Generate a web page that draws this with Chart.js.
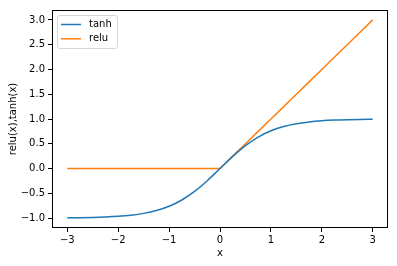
<!DOCTYPE html>
<html><head><meta charset="utf-8">
<script src="https://cdn.jsdelivr.net/npm/chart.js@4/dist/chart.umd.min.js"></script>
<style>html,body{margin:0;padding:0;background:#fff}canvas{display:block}</style>
</head><body>
<canvas id="c" width="397" height="266"></canvas>
<script>
const xValues = [-3,-2.75,-2.5,-2.25,-2,-1.75,-1.5,-1.25,-1,-0.75,-0.5,-0.25,0,0.25,0.5,0.75,1,1.25,1.5,1.75,2,2.25,2.5,2.75,3];
const tanhValues = [-0.995,-0.992,-0.987,-0.978,-0.964,-0.941,-0.905,-0.848,-0.762,-0.635,-0.462,-0.245,0,0.245,0.462,0.635,0.762,0.848,0.905,0.941,0.964,0.978,0.987,0.992,0.995];
const reluValues = [0,0,0,0,0,0,0,0,0,0,0,0,0,0.25,0.5,0.75,1,1.25,1.5,1.75,2,2.25,2.5,2.75,3];
const xTicks = [-3,-2,-1,0,1,2,3];
const yTicks = [-1.0,-0.5,0.0,0.5,1.0,1.5,2.0,2.5,3.0];
const seriesNames = ['tanh','relu'];
const colors = ['#1f77b4','#ff7f0e'];

const FONT = '"DejaVu Sans", sans-serif';
const minus = s => s.replace('-', '\u2212');

const frameAndLegend = {
  id: 'frameAndLegend',
  afterDatasetsDraw(chart) {
    const {ctx, chartArea: a} = chart;
    ctx.save();
    ctx.strokeStyle = '#000';
    ctx.lineWidth = 1;
    ctx.strokeRect(Math.round(a.left) + 0.5, Math.round(a.top) + 0.5, Math.round(a.right - a.left) - 1, Math.round(a.bottom - a.top) - 1);
    // legend
    const lx = a.left + 5, ly = a.top + 5, lw = 60, lh = 33, r = 2.5;
    ctx.beginPath();
    ctx.roundRect(lx + 0.5, ly + 0.5, lw, lh, r);
    ctx.fillStyle = 'rgba(255,255,255,0.8)';
    ctx.fill();
    ctx.strokeStyle = '#d6d6d6';
    ctx.lineWidth = 1;
    ctx.stroke();
    ctx.font = '10px ' + FONT;
    ctx.textBaseline = 'middle';
    ctx.textAlign = 'left';
    chart.data.datasets.forEach((ds, i) => {
      const y = ly + 9.5 + i * 14.3;
      ctx.beginPath();
      ctx.strokeStyle = ds.borderColor;
      ctx.lineWidth = 1.5;
      ctx.moveTo(lx + 4, y);
      ctx.lineTo(lx + 24, y);
      ctx.stroke();
      ctx.fillStyle = '#000';
      ctx.fillText(ds.label, lx + 32, y);
    });
    ctx.restore();
  }
};

new Chart(document.getElementById('c'), {
  type: 'line',
  data: {
    datasets: [
      { label: seriesNames[0], data: xValues.map((x, i) => ({x, y: tanhValues[i]})), borderColor: colors[0], backgroundColor: colors[0], borderWidth: 1.5, pointRadius: 0, cubicInterpolationMode: 'monotone', fill: false },
      { label: seriesNames[1], data: xValues.map((x, i) => ({x, y: reluValues[i]})), borderColor: colors[1], backgroundColor: colors[1], borderWidth: 1.5, pointRadius: 0, tension: 0, fill: false }
    ]
  },
  options: {
    responsive: false,
    animation: false,
    devicePixelRatio: 1,
    layout: { padding: { top: 10, right: 9, left: 0, bottom: 0 } },
    plugins: { legend: { display: false }, tooltip: { enabled: false } },
    scales: {
      x: {
        type: 'linear', min: -3.3, max: 3.3,
        afterBuildTicks: s => { s.ticks = xTicks.map(v => ({value: v})); },
        afterFit: s => { s.height = 38; },
        grid: { drawOnChartArea: false, drawTicks: true, tickLength: 4, color: '#000', tickWidth: 1 },
        border: { display: false },
        ticks: { color: '#000', font: { family: FONT, size: 10 }, padding: 2, maxRotation: 0, callback: v => minus(String(v)) },
        title: { display: true, text: 'x', color: '#000', font: { family: FONT, size: 10 }, padding: { top: 0, bottom: 7 } }
      },
      y: {
        type: 'linear', min: -1.2, max: 3.2,
        afterBuildTicks: s => { s.ticks = yTicks.map(v => ({value: v})); },
        afterFit: s => { s.width = 52; },
        grid: { drawOnChartArea: false, drawTicks: true, tickLength: 4, color: '#000', tickWidth: 1 },
        border: { display: false },
        ticks: { color: '#000', font: { family: FONT, size: 10 }, padding: 3, callback: v => minus(v.toFixed(1)) },
        title: { display: true, text: 'relu(x),tanh(x)', color: '#000', font: { family: FONT, size: 10 }, padding: { top: 7, bottom: 0 } }
      }
    }
  },
  plugins: [frameAndLegend]
});
</script>
</body></html>
